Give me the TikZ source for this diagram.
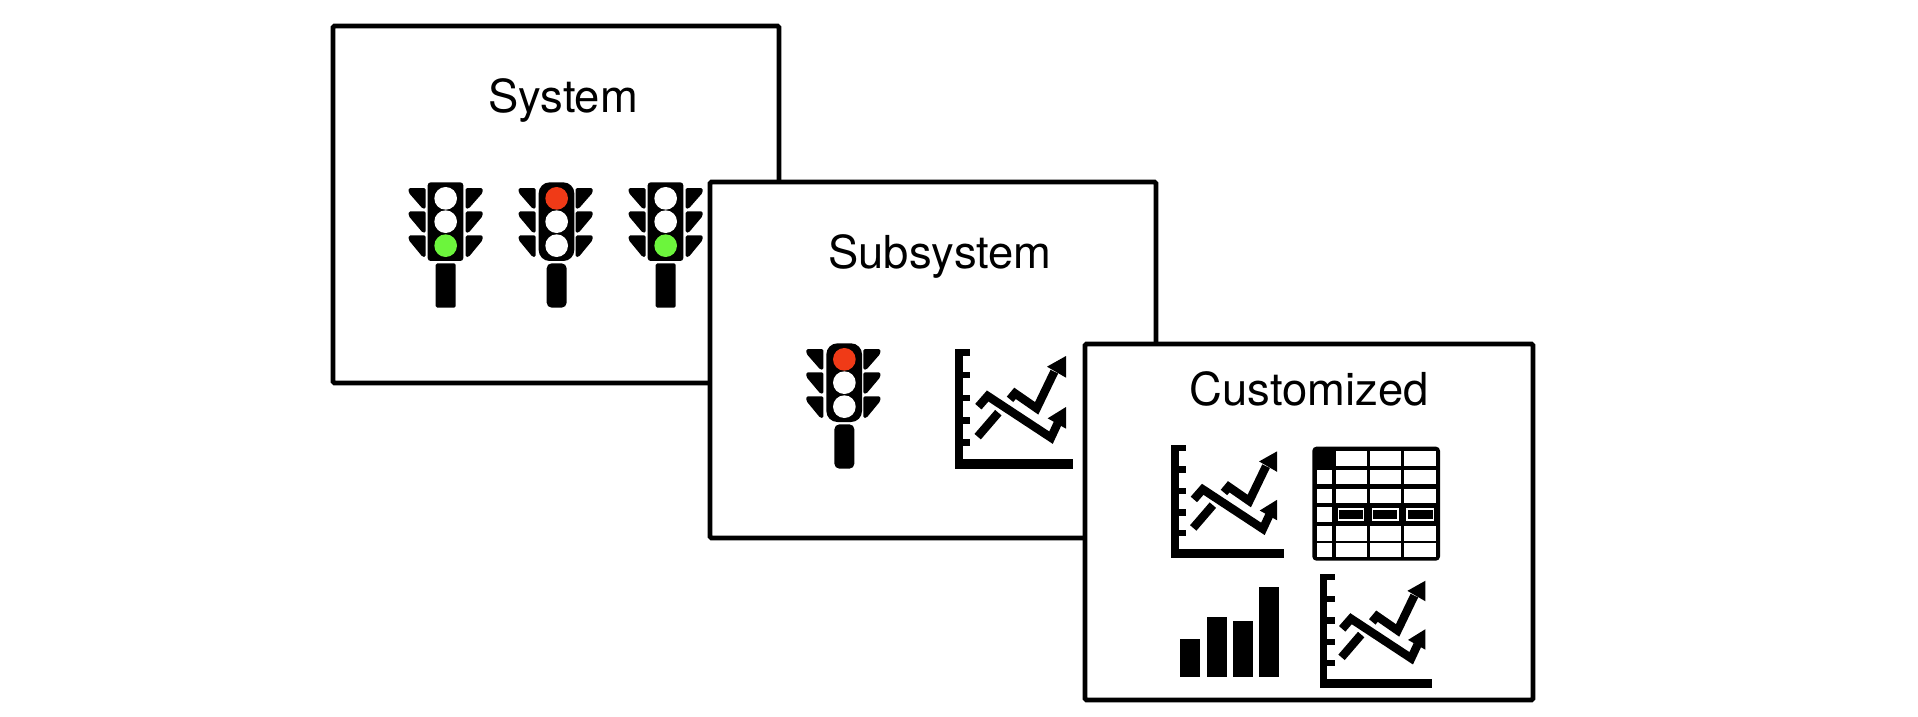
\documentclass[tikz,border=0pt]{standalone}
\usepackage{fontspec}
\setmainfont{TeX Gyre Heros}
\definecolor{lampgreen}{HTML}{6CF53C}
\definecolor{lampred}{HTML}{F03A17}
\tikzset{
  panel/.style={draw=black,fill=white,line width=4.8pt,rounded corners=1.5pt},
  paneltitle/.style={font=\fontsize{45.4pt}{50pt}\selectfont,text=black,inner sep=0pt,anchor=base},
  stroke/.style={draw=black,line width=8.4pt,line join=miter},
  pics/tlight/.style n args={6}{code={
    % lamps 1-3, housing radius, post radius, housing x shift
    \begin{scope}[x=.3333pt,y=-.3333pt]
      \foreach \a/\b in {39/101,109/173,181/246}{
        \fill[black,rounded corners=1.5pt] (26,\a) -- (77,\a) -- (77,\b) -- (68,\b) -- (26,\a+14) -- cycle;
        \fill[black,rounded corners=1.5pt] (248,\a) -- (197,\a) -- (197,\b) -- (206,\b) -- (248,\a+14) -- cycle;
      }
      \fill[black,rounded corners=#4] (83+#6,22) rectangle (190+#6,258);
      \fill[black,rounded corners=#5] (107+#6,265) rectangle (167+#6,398);
      \fill[#1] (137+#6,70) circle (34);
      \fill[#2] (137+#6,140) circle (34);
      \fill[#3] (137+#6,212) circle (34);
    \end{scope}
  }},
  pics/linechart/.style={code={
    \begin{scope}[x=.3333pt,y=-.3333pt]
      \fill[black] (29,28) rectangle (53,386);
      \fill[black] (29,357) rectangle (385,386);
      \foreach \t in {27,95,164,231,297}{\fill[black] (29,\t) rectangle (76,\t+20);}
      \draw[stroke] (98,290) -- (160,218);
      \draw[stroke] (100,200) -- (128,168) -- (318,293) -- (338,250);
      \fill[black] (363,201) -- (363,266) -- (308,235) -- cycle;
      \draw[stroke] (195,178) -- (210,160) -- (275,205) -- (328,95);
      \fill[black] (363,48) -- (363,113) -- (306,80) -- cycle;
    \end{scope}
  }},
  pics/datatable/.style={code={
    \begin{scope}[x=.3333pt,y=-.3333pt]
      \fill[black,rounded corners=4pt] (22,20) rectangle (405,362);
      \foreach \ya/\yb in {88.5/131.5,145.5/189.5,258.5/301.5,308.5/349.5}{
        \fill[white] (35.5,\ya) rectangle (81.5,\yb);
        \fill[white] (91.5,\ya) rectangle (184.5,\yb);
        \fill[white] (193.5,\ya) rectangle (286.5,\yb);
        \fill[white] (296.5,\ya) rectangle (393.5,\yb);
      }
      \fill[white] (91.5,33.5) rectangle (184.5,76.5);
      \fill[white] (193.5,33.5) rectangle (286.5,76.5);
      \fill[white] (296.5,33.5) rectangle (393.5,76.5);
      \fill[white] (35.5,201.5) rectangle (81.5,246.5);
      \foreach \xa/\xb in {98/178,200/282,304/388}{
        \fill[white] (\xa,205) rectangle (\xb,243);
        \fill[black] (\xa+5,211) rectangle (\xb-5,237);
      }
    \end{scope}
  }},
  pics/barchart/.style={code={
    \begin{scope}[x=.3333pt,y=-.3333pt]
      \fill[black] (30,208) rectangle (90,320);
      \fill[black] (110,140) rectangle (170,320);
      \fill[black] (190,153) rectangle (248,320);
      \fill[black] (268,50) rectangle (328,320);
    \end{scope}
  }}
}
\begin{document}
\begin{tikzpicture}[x=1pt,y=-1pt]
  \useasboundingbox (0,0) rectangle (1918,716);
  \fill[white] (0,0) rectangle (1918,716);
  % System
  \draw[panel] (333,26) rectangle (779,383);
  \node[paneltitle] (systitle) at (563,112) {System};
  \pic at (400,175) {tlight={white}{white}{lampgreen}{3pt}{1.5pt}{0}};
  \pic at (510,175) {tlight={lampred}{white}{white}{11pt}{5pt}{3}};
  \pic at (620,175) {tlight={white}{white}{lampgreen}{3pt}{1.5pt}{0}};
  % Subsystem
  \draw[panel] (710,182) rectangle (1156,538);
  \node[paneltitle] (subtitle) at (940,268) {Subsystem};
  \pic at (797.7,336) {tlight={lampred}{white}{white}{11pt}{5pt}{3}};
  \pic at (945,340) {linechart};
  % Customized
  \draw[panel] (1085,344) rectangle (1533,700);
  \node[paneltitle] (custitle) at (1309,405) {Customized};
  \pic[scale=.95] at (1162.2,436.1) {linechart};
  \pic at (1305,440) {datatable};
  \pic at (1170,570) {barchart};
  \pic[scale=.95] at (1310.5,565.5) {linechart};
\end{tikzpicture}
\end{document}
